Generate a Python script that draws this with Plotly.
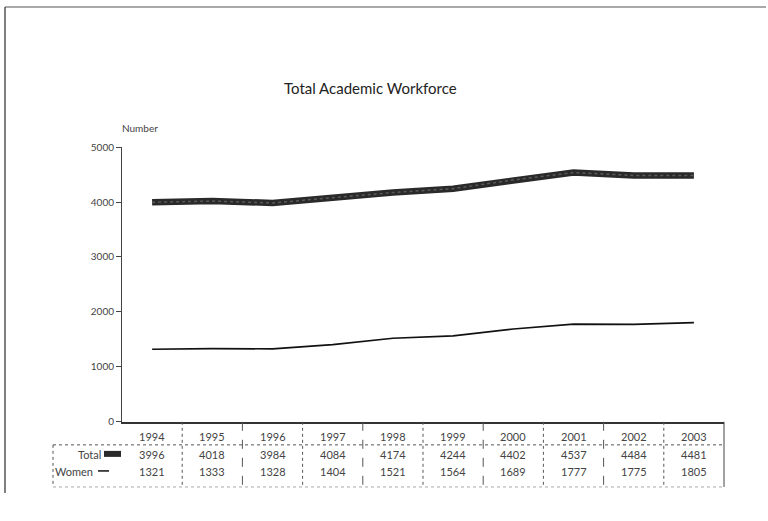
import plotly.graph_objects as go

years = ["1994", "1995", "1996", "1997", "1998", "1999", "2000", "2001", "2002", "2003"]
total = [3996, 4018, 3984, 4084, 4174, 4244, 4402, 4537, 4484, 4481]
women = [1321, 1333, 1328, 1404, 1521, 1564, 1689, 1777, 1775, 1805]
yticks = [0, 1000, 2000, 3000, 4000, 5000]

W, H = 768, 521
def py(p):  # target pixel y -> paper y (compensating observed render offset/scale)
    q = (p - 7.24) / 0.9745
    return max(0.0, min(1.0, 1 - q / H))
def px(p):
    return p / W

FONT = "Lato"
TXT = "#444444"
xs = list(range(len(years)))

fig = go.Figure()
fig.add_trace(go.Scatter(x=xs, y=total, mode="lines", name="Total",
                         line=dict(color="#2a2a2a", width=6.5), showlegend=False))
fig.add_trace(go.Scatter(x=xs, y=total, mode="lines", showlegend=False,
                         line=dict(color="#5a5a5a", width=1.5, dash="dot")))
fig.add_trace(go.Scatter(x=xs, y=women, mode="lines", name="Women",
                         line=dict(color="#111111", width=1.7), showlegend=False))

shapes = []
ann = []
# outer scan frame
shapes.append(dict(type="line", xref="paper", yref="paper", x0=px(5), x1=px(766), y0=py(2), y1=py(2),
                   line=dict(color="#555", width=1)))
shapes.append(dict(type="line", xref="paper", yref="paper", x0=px(5), x1=px(5), y0=py(2), y1=py(492),
                   line=dict(color="#555", width=1.5)))

# table
TOP, HDR, BOT = 421, 444, 486
for k in range(1, len(years)):
    shapes.append(dict(type="line", xref="x", yref="paper", x0=k - 0.5, x1=k - 0.5, y0=py(TOP), y1=py(BOT),
                       line=dict(color="#555", width=1, dash="dot" if k % 2 else "dash")))
shapes.append(dict(type="line", xref="paper", yref="paper", x0=px(724), x1=px(724), y0=py(TOP), y1=py(BOT),
                   line=dict(color="#444", width=1)))
shapes.append(dict(type="line", xref="paper", yref="paper", x0=px(53), x1=px(724), y0=py(HDR), y1=py(HDR),
                   line=dict(color="#555", width=1, dash="dot")))
shapes.append(dict(type="line", xref="paper", yref="paper", x0=px(53), x1=px(53), y0=py(HDR), y1=py(BOT),
                   line=dict(color="#555", width=1, dash="dot")))
shapes.append(dict(type="line", xref="paper", yref="paper", x0=px(53), x1=px(724), y0=py(BOT), y1=py(BOT),
                   line=dict(color="#aaa", width=1, dash="dot")))
# legend keys
shapes.append(dict(type="line", xref="paper", yref="paper", x0=px(104), x1=px(121), y0=py(453), y1=py(453),
                   line=dict(color="#2a2a2a", width=6)))
shapes.append(dict(type="line", xref="paper", yref="paper", x0=px(98), x1=px(109), y0=py(470), y1=py(470),
                   line=dict(color="#111", width=1.5)))

def txt(x, y, s, size=11, xref="paper", xanchor="center", color=TXT):
    ann.append(dict(x=x, y=y, xref=xref, yref="paper", text=s, showarrow=False,
                    xanchor=xanchor, yanchor="middle",
                    font=dict(size=size, color=color, family=FONT)))

for i, yr in enumerate(years):
    txt(i, py(436), yr, xref="x")
    txt(i, py(454), str(total[i]), xref="x")
    txt(i, py(471), str(women[i]), xref="x")
txt(px(103), py(454), "Total", xanchor="right")
txt(px(95), py(471), "Women", xanchor="right")
txt(px(120), py(128), "Number", size=10, xanchor="left")
txt(px(370), py(88), "Total Academic Workforce", size=15, color="#222")

fig.update_layout(
    width=W, height=H, margin=dict(l=0, r=0, t=0, b=0),
    paper_bgcolor="white", plot_bgcolor="white",
    shapes=shapes, annotations=ann, showlegend=False,
    xaxis=dict(domain=[px(122), px(724)], range=[-0.5, len(years) - 0.5], showticklabels=False,
               showgrid=False, zeroline=False, showline=True, linecolor="#333", linewidth=1.5,
               ticks="", fixedrange=True),
    yaxis=dict(domain=[py(421), py(147)], range=[0, 5000], tickvals=yticks,
               ticktext=[str(v) for v in yticks], showgrid=False, zeroline=False,
               showline=True, linecolor="#444", linewidth=1, ticks="outside", ticklen=5,
               tickcolor="#444", tickfont=dict(size=10, color=TXT, family=FONT), fixedrange=True),
)
fig.write_html("out.html", config={"displayModeBar": False},
               post_script="document.body.style.margin='0px';document.body.style.overflow='hidden';")
